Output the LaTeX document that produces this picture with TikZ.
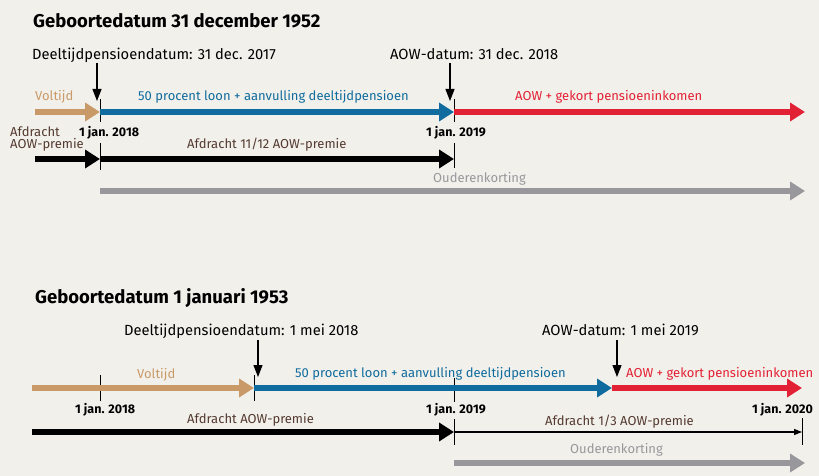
\documentclass[tikz,border=0pt]{standalone}
\usepackage{fontspec}
\setmainfont{Fira Sans}
\usetikzlibrary{arrows.meta}

\definecolor{achtergrond}{RGB}{242,240,235}
\definecolor{voltijd}{RGB}{201,154,104}
\definecolor{deeltijd}{RGB}{16,108,158}
\definecolor{aow}{RGB}{227,33,52}
\definecolor{korting}{RGB}{152,152,156}
\definecolor{afdracht}{RGB}{84,58,48}

\tikzset{
    label/.style={anchor=base west, inner sep=0pt},
    titel/.style={label, font=\fontsize{18.5}{20}\selectfont\bfseries},
    datum/.style={label, font=\fontsize{14.7}{16}\selectfont},
    fase/.style={label, font=\fontsize{13}{14}\selectfont},
    jaar/.style={label, font=\fontsize{12.5}{13}\selectfont\bfseries},
    balk/.style={line width=6pt, -{Triangle[length=15pt, width=18pt]}},
    dunpijl/.style={line width=1.2pt, -{Triangle[length=8pt, width=6pt]}},
    wijzer/.style={line width=1.2pt, -{Triangle[length=12pt, width=9pt]}},
    streep/.style={line width=0.9pt}
}

\begin{document}
\begin{tikzpicture}[x=1pt, y=-1pt]
    \useasboundingbox (0,0) rectangle (819,476);
    \fill[achtergrond] (0,0) rectangle (819,476);

    % ==============================================================
    % 1. GEBOORTEDATUM 31 DECEMBER 1952
    % ==============================================================
    \node[titel] (titelA) at (33,28) {Geboortedatum 31 december 1952};
    \node[datum] (deeltijdA) at (32,60) {Deeltijdpensioendatum: 31 dec. 2017};
    \node[datum] (aowA) at (390,60) {AOW-datum: 31 dec. 2018};

    % --- Punten op de tijdlijnen ---
    \coordinate (startA)   at (35,112);     % begin voltijd
    \coordinate (deelA)    at (100,112);    % 1 jan. 2018
    \coordinate (pensA)    at (454,112);    % 1 jan. 2019
    \coordinate (eindA)    at (805,112);    % einde rechts
    \coordinate (premA)    at (35,159);     % begin afdracht
    \coordinate (premdA)   at (100,159);
    \coordinate (prempA)   at (454,159);
    \coordinate (kortA)    at (100,191);    % ouderenkorting
    \coordinate (korteA)   at (805,191);

    % Wijzers vanaf de data
    \coordinate (w1A) at (97,63);   \coordinate (w1eA) at (97,101);
    \coordinate (w2A) at (450,63);  \coordinate (w2eA) at (450,101);
    \draw[wijzer] (w1A) -- (w1eA);
    \draw[wijzer] (w2A) -- (w2eA);

    % Streepjes
    \coordinate (s1A) at (100,99);   \coordinate (s1bA) at (100,122);
    \coordinate (s1cA) at (100,143); \coordinate (s1dA) at (100,170);
    \coordinate (s2A) at (454,99);   \coordinate (s2bA) at (454,122);
    \coordinate (s2cA) at (454,143); \coordinate (s2dA) at (454,168);
    \draw[streep] (s1A) -- (s1bA);
    \draw[streep] (s1cA) -- (s1dA);
    \draw[streep] (s2A) -- (s2bA);
    \draw[streep] (s2cA) -- (s2dA);

    % Balken
    \draw[balk, voltijd]  (startA) -- (deelA);
    \draw[balk, deeltijd] (deelA) -- (pensA);
    \draw[balk, aow]      (pensA) -- (eindA);
    \draw[balk, black]    (premA) -- (premdA);
    \draw[balk, black]    (premdA) -- (prempA);
    \draw[balk, korting]  (kortA) -- (korteA);

    % Teksten
    \node[fase, voltijd]  (voltijdA) at (35,101) {Voltijd};
    \node[fase, deeltijd] (loonA) at (138,101) {50 procent loon + aanvulling deeltijdpensioen};
    \node[fase, aow]      (inkA) at (515,101) {AOW + gekort pensioeninkomen};
    \node[jaar] (jan18A) at (79,137) {1 jan. 2018};
    \node[jaar] (jan19A) at (426,137) {1 jan. 2019};
    \node[fase, afdracht] (afdrA) at (10,137) {Afdracht};
    \node[fase, afdracht] (aowprA) at (10,149) {AOW-premie};
    \node[fase, afdracht] (elfA) at (187,149) {Afdracht 11/12 AOW-premie};
    \node[fase, korting]  (ouderA) at (433,182) {Ouderenkorting};

    % ==============================================================
    % 2. GEBOORTEDATUM 1 JANUARI 1953
    % ==============================================================
    \node[titel] (titelB) at (35,303) {Geboortedatum 1 januari 1953};
    \node[datum] (deeltijdB) at (124,335) {Deeltijdpensioendatum: 1 mei 2018};
    \node[datum] (aowB) at (542,335) {AOW-datum: 1 mei 2019};

    % --- Punten op de tijdlijnen ---
    \coordinate (startB)  at (32,388);
    \coordinate (deelB)   at (254,388);    % 1 mei 2018
    \coordinate (pensB)   at (612,388);    % 1 mei 2019
    \coordinate (eindB)   at (802,388);
    \coordinate (premB)   at (32,432);
    \coordinate (prempB)  at (454,432);    % 1 jan. 2019
    \coordinate (premeB)  at (802,432);    % 1 jan. 2020
    \coordinate (kortB)   at (454,463);
    \coordinate (korteB)  at (805,463);

    % Wijzers vanaf de data
    \coordinate (w1B) at (258,340);  \coordinate (w1eB) at (258,377);
    \coordinate (w2B) at (617,340);  \coordinate (w2eB) at (617,377);
    \draw[wijzer] (w1B) -- (w1eB);
    \draw[wijzer] (w2B) -- (w2eB);

    % Streepjes
    \coordinate (s1B) at (100,375);  \coordinate (s1bB) at (100,401);
    \coordinate (s2B) at (254,375);  \coordinate (s2bB) at (254,401);
    \coordinate (s3B) at (454,378);  \coordinate (s3bB) at (454,402);
    \coordinate (s3cB) at (454,419); \coordinate (s3dB) at (454,445);
    \coordinate (s4B) at (802,418);  \coordinate (s4bB) at (802,445);
    \draw[streep] (s1B) -- (s1bB);
    \draw[streep] (s2B) -- (s2bB);
    \draw[streep] (s3B) -- (s3bB);
    \draw[streep] (s3cB) -- (s3dB);
    \draw[streep] (s4B) -- (s4bB);

    % Balken
    \draw[balk, voltijd]  (startB) -- (deelB);
    \draw[balk, deeltijd] (deelB) -- (pensB);
    \draw[balk, aow]      (pensB) -- (eindB);
    \draw[balk, black]    (premB) -- (prempB);
    \draw[dunpijl]        (prempB) -- (premeB);
    \draw[balk, korting]  (kortB) -- (korteB);

    % Teksten
    \node[fase, voltijd]  (voltijdB) at (137,378) {Voltijd};
    \node[fase, deeltijd] (loonB) at (295,377) {50 procent loon + aanvulling deeltijdpensioen};
    \node[fase, aow]      (inkB) at (626,377) {AOW + gekort pensioeninkomen};
    \node[jaar] (jan18B) at (75,413) {1 jan. 2018};
    \node[jaar] (jan19B) at (426,413) {1 jan. 2019};
    \node[jaar] (jan20B) at (752,413) {1 jan. 2020};
    \node[fase, afdracht] (afdrB) at (187,423) {Afdracht AOW-premie};
    \node[fase, afdracht] (derdeB) at (545,425) {Afdracht 1/3 AOW-premie};
    \node[fase, korting]  (ouderB) at (570,453) {Ouderenkorting};
\end{tikzpicture}
\end{document}
